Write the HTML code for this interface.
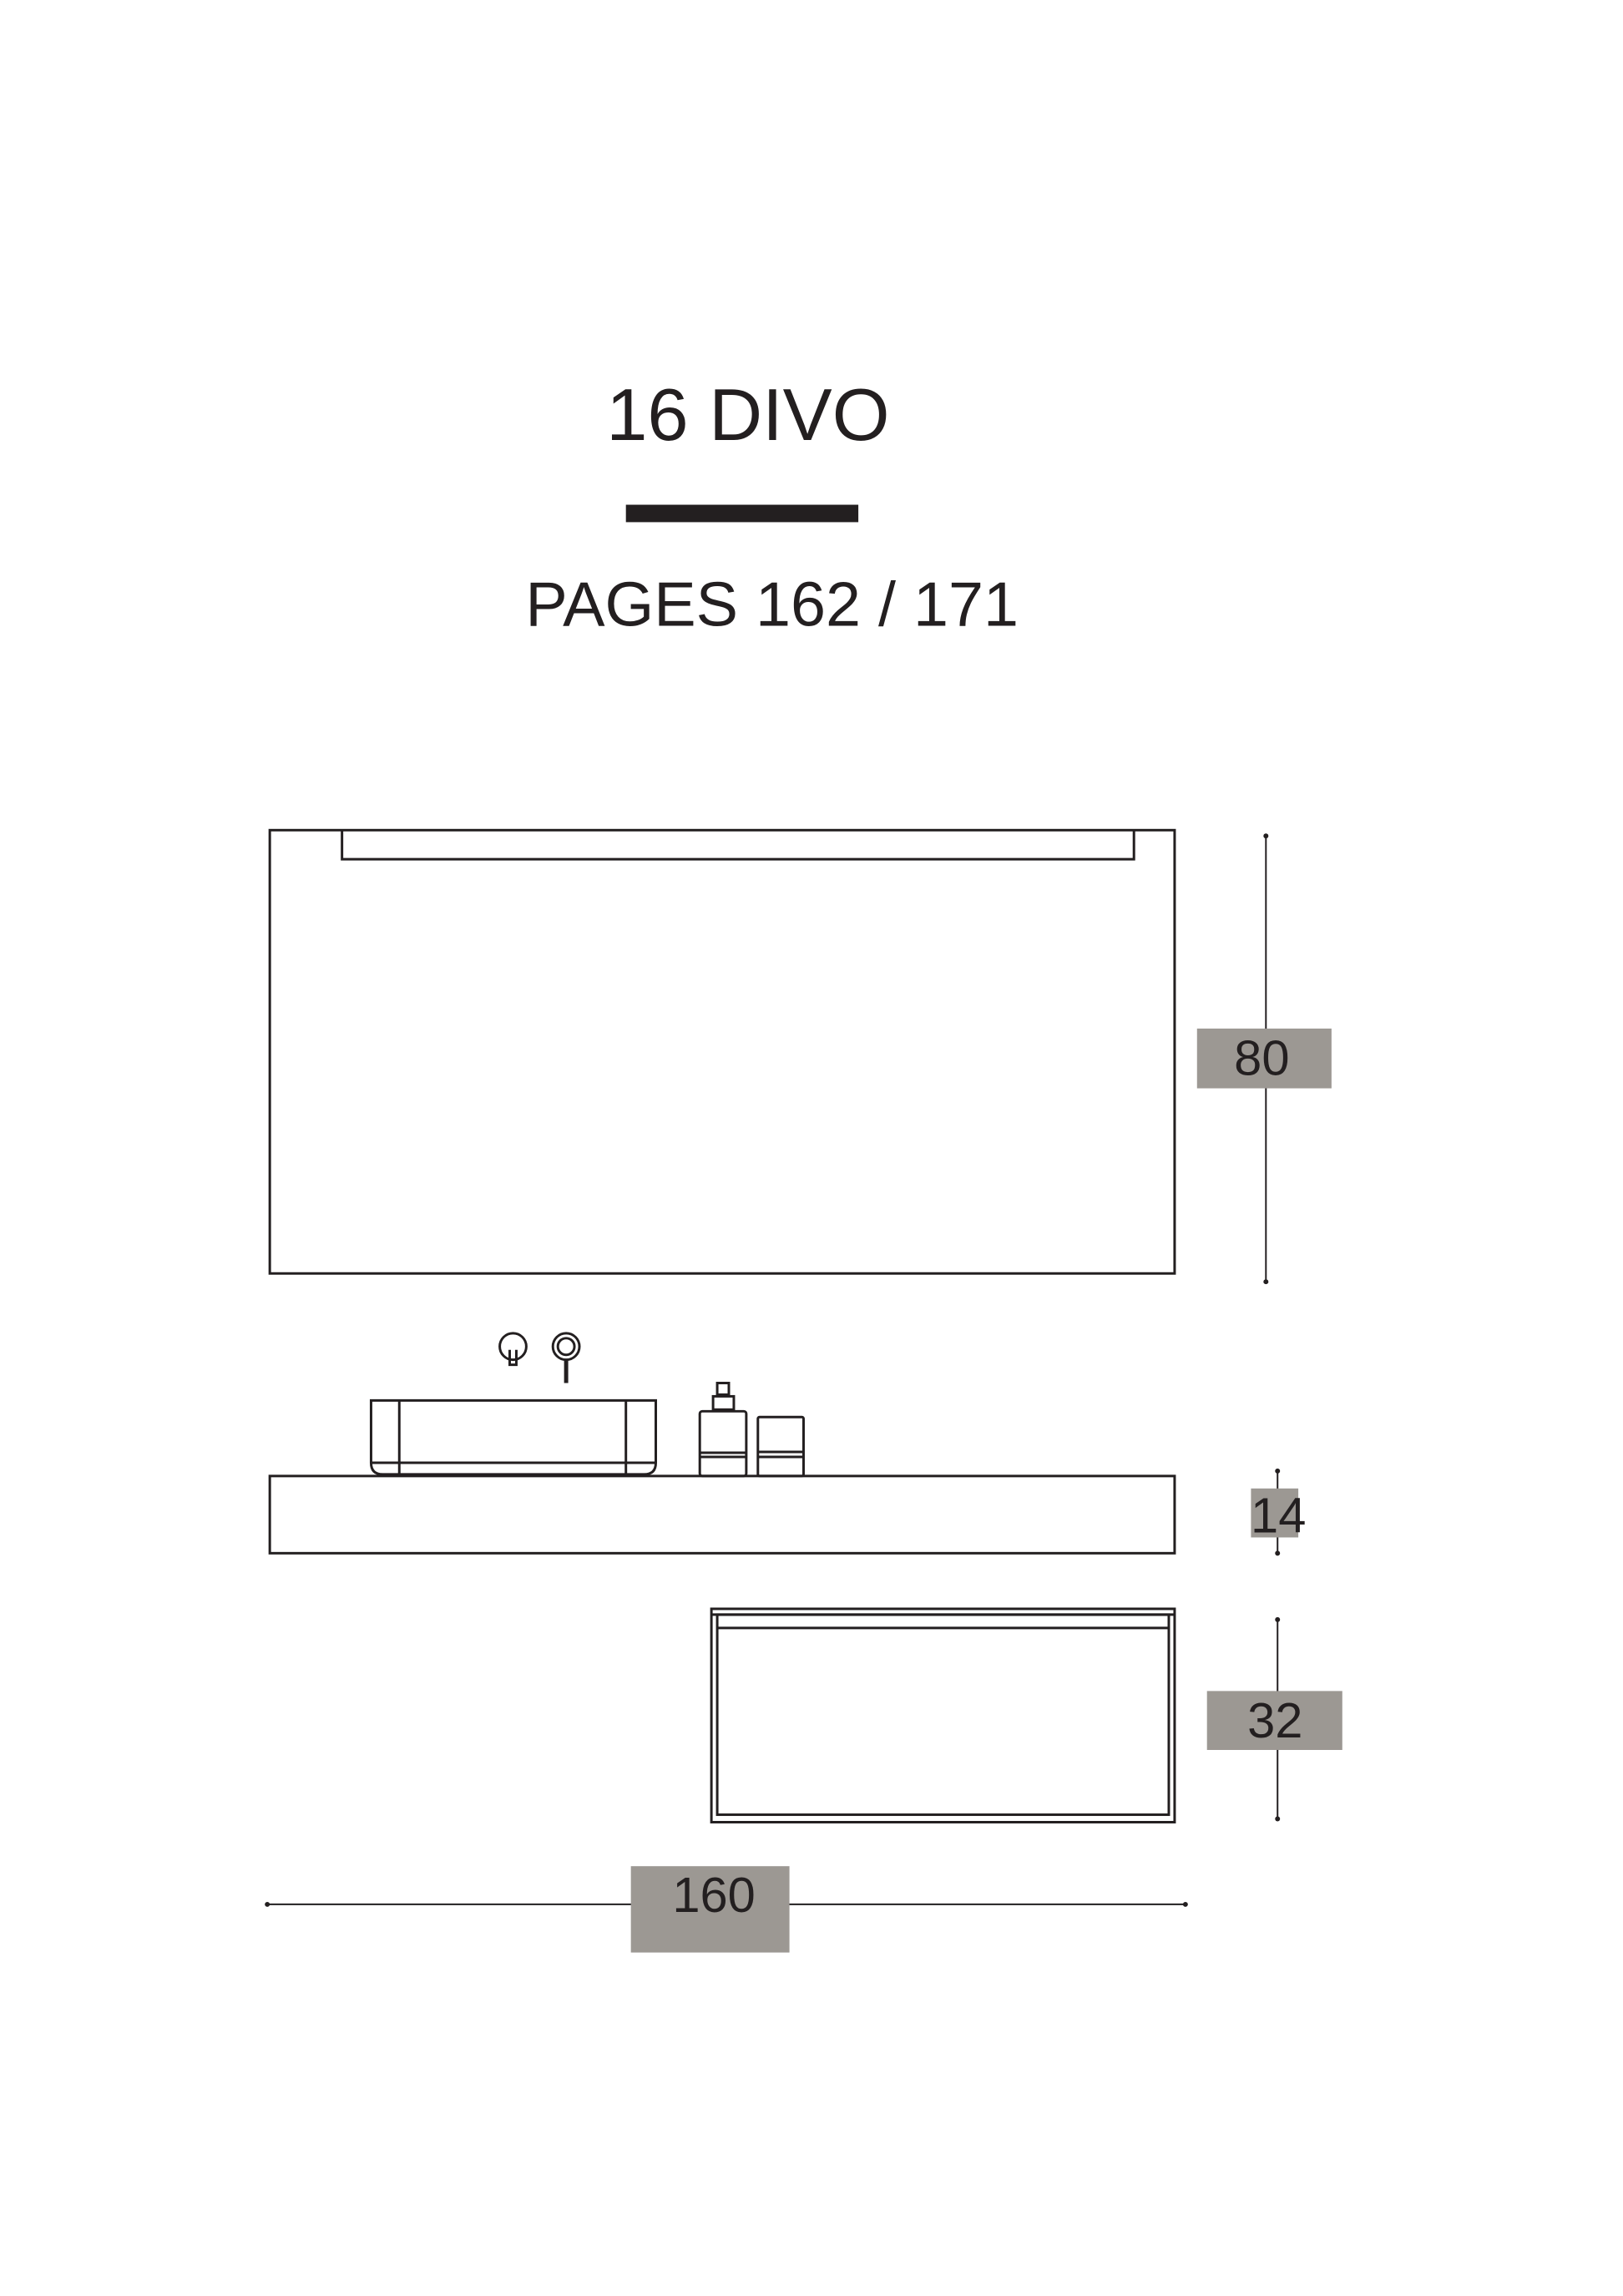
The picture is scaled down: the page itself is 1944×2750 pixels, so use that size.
<!DOCTYPE html>
<html><head><meta charset="utf-8"><style>
html,body{margin:0;padding:0;background:#fff}
svg{display:block}
text{font-family:"Liberation Sans",sans-serif;fill:#231f20}
</style></head><body>
<svg width="1944" height="2750" viewBox="0 0 1944 2750" xmlns="http://www.w3.org/2000/svg">
<rect width="1944" height="2750" fill="#fff"/>
<g transform="scale(0.9943)">
<text x="901" y="530" font-size="89" text-anchor="middle">16 DIVO</text>
<rect x="754" y="608" width="280" height="21" fill="#231f20"/>
<text x="930" y="754" font-size="76" text-anchor="middle">PAGES 162 / 171</text>

<g fill="none" stroke="#231f20" stroke-width="3">
<rect x="325" y="1000" width="1090" height="534"/>
<path d="M412 1000 V1035 H1366 V1000"/>
<circle cx="618" cy="1622" r="16"/>
<path d="M614 1626 V1644 H622 V1626"/>
<circle cx="682" cy="1622" r="16"/>
<circle cx="682" cy="1622" r="10"/>
<path d="M682 1638 V1666" stroke-width="5"/>
<path d="M447 1687 H790 V1762 Q790 1776 776 1776 H461 Q447 1776 447 1762 Z"/>
<path d="M481 1687 V1776 M754 1687 V1776 M447 1762 H790"/>
<rect x="843" y="1700" width="56" height="78" rx="3"/>
<path d="M843 1750 H899 M843 1755 H899"/>
<rect x="859" y="1682" width="25" height="16"/>
<rect x="864" y="1666" width="14" height="14"/>
<rect x="913" y="1707" width="55" height="71" rx="2"/>
<path d="M913 1749 H968 M913 1755 H968"/>
<rect x="325" y="1778" width="1090" height="93"/>
<rect x="857" y="1938" width="558" height="257"/>
<path d="M857 1945 H1415"/>
<rect x="864" y="1945" width="544" height="241"/>
<path d="M864 1961 H1408"/>
<path d="M1525 1007 V1544" stroke-width="2"/>
<path d="M1539 1772 V1871" stroke-width="2"/>
<path d="M1539 1951 V2191" stroke-width="2"/>
<path d="M322 2294 H1428" stroke-width="2"/>
</g>
<g fill="#231f20">
<circle cx="1525" cy="1007" r="3"/><circle cx="1525" cy="1544" r="3"/>
<circle cx="1539" cy="1772" r="3"/><circle cx="1539" cy="1871" r="3"/>
<circle cx="1539" cy="1951" r="3"/><circle cx="1539" cy="2191" r="3"/>
<circle cx="322" cy="2294" r="3"/><circle cx="1428" cy="2294" r="3"/>
</g>
<g fill="#9c9893">
<rect x="1442" y="1239" width="162" height="72"/>
<rect x="1507" y="1793" width="57" height="59"/>
<rect x="1454" y="2037" width="163" height="71"/>
<rect x="760" y="2248" width="191" height="104"/>
</g>
<text x="1520" y="1295" font-size="60" text-anchor="middle">80</text>
<text x="1540" y="1846" font-size="60" text-anchor="middle">14</text>
<text x="1536" y="2093" font-size="60" text-anchor="middle">32</text>
<text x="860" y="2303" font-size="60" text-anchor="middle">160</text>
</g>
</svg>
</body></html>
